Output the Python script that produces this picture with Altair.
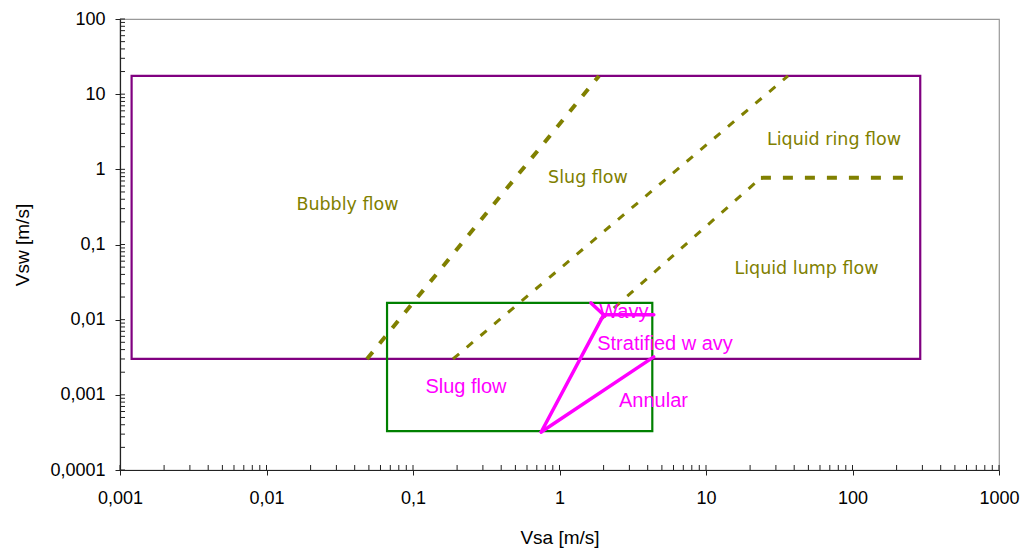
import altair as alt
import pandas as pd

# ---------------- data ----------------
X_TICKS = [0.001, 0.01, 0.1, 1, 10, 100, 1000]
X_LABELS = ["0,001", "0,01", "0,1", "1", "10", "100", "1000"]
Y_TICKS = [0.0001, 0.001, 0.01, 0.1, 1, 10, 100]
Y_LABELS = ["0,0001", "0,001", "0,01", "0,1", "1", "10", "100"]
X_MINOR = [m * 10 ** k for k in range(-3, 3) for m in range(1, 10)] + [1000]
Y_MINOR = [m * 10 ** k for k in range(-4, 2) for m in range(1, 10)] + [100]

# rectangles: x1, x2, y1, y2
RECT_NAMES = ["outer", "inner"]
RECT_X1 = [0.0012, 0.0665]
RECT_X2 = [290, 4.3]
RECT_Y1 = [0.0030, 0.00033]
RECT_Y2 = [17.5, 0.0167]
RECT_COLORS = ["#800080", "#008000"]

# olive boundary lines
L1_X = [0.0485, 1.86]
L1_Y = [0.0030, 17.5]
L2_X = [0.1875, 36.3]
L2_Y = [0.0030, 17.5]
L3_X = [1.9, 23.7]
L3_Y = [0.0099, 0.77]
L4_X = [23.7, 232]
L4_Y = [0.77, 0.77]

# magenta segments
M_X1 = [0.75, 2.0, 2.0, 0.75]
M_Y1 = [0.00032, 0.0116, 0.0116, 0.00032]
M_X2 = [2.0, 1.64, 4.4, 4.4]
M_Y2 = [0.0116, 0.0167, 0.0116, 0.0032]

# labels
OLIVE_TEXT = ["Bubbly flow", "Slug flow", "Liquid ring flow", "Liquid lump flow"]
OLIVE_X = [0.0357, 1.565, 74.8, 48.5]
OLIVE_Y = [0.34, 0.778, 2.42, 0.0465]
MAG_TEXT = ["Wavy", "Stratified w avy", "Slug flow", "Annular"]
MAG_X = [2.75, 5.25, 0.230, 4.38]
MAG_Y = [0.01247, 0.00468, 0.00129, 0.000817]

W, H = 879, 451
OLIVE = "#808000"
MAGENTA = "#FF00FF"


def lookup_expr(vals, labels):
    v = "[" + ",".join(repr(float(x)) for x in vals) + "]"
    l = "[" + ",".join("'" + s + "'" for s in labels) + "]"
    return f"indexof({v}, datum.value) >= 0 ? {l}[indexof({v}, datum.value)] : ''"


xscale = alt.Scale(type="log", domain=[0.001, 1000], nice=False)
yscale = alt.Scale(type="log", domain=[0.0001, 100], nice=False)

axis_common = dict(
    grid=False, domainColor="#222222", domainWidth=1.2, tickColor="#222222",
    tickSize=5, labelFont="Liberation Sans", labelFontSize=18, labelColor="#000000",
    titleFont="Liberation Sans", titleFontSize=19, titleFontWeight="normal",
    titleColor="#000000", labelFlush=False, labelOverlap=False,
)
xaxis = alt.Axis(values=X_TICKS, labelExpr=lookup_expr(X_TICKS, X_LABELS),
                 labelPadding=14, titlePadding=21, title="Vsa [m/s]", **axis_common)
yaxis = alt.Axis(values=Y_TICKS, labelExpr=lookup_expr(Y_TICKS, Y_LABELS),
                 labelPadding=10, titlePadding=17, title="Vsw [m/s]", **axis_common)

rects = pd.DataFrame({"name": RECT_NAMES, "x1": RECT_X1, "x2": RECT_X2,
                      "y1": RECT_Y1, "y2": RECT_Y2, "c": RECT_COLORS})

base_rect = alt.Chart(rects).mark_rect(fillOpacity=0, strokeWidth=2.2).encode(
    x=alt.X("x1:Q", scale=xscale, axis=xaxis),
    x2="x2:Q",
    y=alt.Y("y1:Q", scale=yscale, axis=yaxis),
    y2="y2:Q",
    stroke=alt.Color("c:N", scale=None),
)


def line_layer(xs, ys, width, dash):
    df = pd.DataFrame({"x": xs, "y": ys})
    return alt.Chart(df).mark_line(color=OLIVE, strokeWidth=width, strokeDash=dash,
                                   clip=True).encode(
        x=alt.X("x:Q", scale=xscale), y=alt.Y("y:Q", scale=yscale))


l1 = line_layer(L1_X, L1_Y, 4, [9, 11])
l2 = line_layer(L2_X, L2_Y, 3, [8, 10])
l3 = line_layer(L3_X, L3_Y, 3, [8, 10])
l4 = line_layer(L4_X, L4_Y, 4, [10, 12])

mag = pd.DataFrame({"x1": M_X1, "y1": M_Y1, "x2": M_X2, "y2": M_Y2})
mag_layer = alt.Chart(mag).mark_rule(color=MAGENTA, strokeWidth=3.5, strokeCap="round").encode(
    x=alt.X("x1:Q", scale=xscale), y=alt.Y("y1:Q", scale=yscale), x2="x2:Q", y2="y2:Q")

olive_df = pd.DataFrame({"t": OLIVE_TEXT, "x": OLIVE_X, "y": OLIVE_Y})
olive_text = alt.Chart(olive_df).mark_text(color=OLIVE, font="DejaVu Sans", fontSize=17.5,
                                           align="center", baseline="middle").encode(
    x=alt.X("x:Q", scale=xscale), y=alt.Y("y:Q", scale=yscale), text="t:N")

mag_df = pd.DataFrame({"t": MAG_TEXT, "x": MAG_X, "y": MAG_Y})
mag_text = alt.Chart(mag_df).mark_text(color=MAGENTA, font="Liberation Sans", fontSize=20,
                                       align="center", baseline="middle").encode(
    x=alt.X("x:Q", scale=xscale), y=alt.Y("y:Q", scale=yscale), text="t:N")

# inward minor/major ticks
xt = alt.Chart(pd.DataFrame({"v": X_MINOR})).mark_rule(color="#222222", strokeWidth=1).encode(
    x=alt.X("v:Q", scale=xscale), y=alt.value(H), y2=alt.value(H - 5))
yt = alt.Chart(pd.DataFrame({"v": Y_MINOR})).mark_rule(color="#222222", strokeWidth=1).encode(
    y=alt.Y("v:Q", scale=yscale), x=alt.value(0), x2=alt.value(5))

chart = alt.layer(base_rect, l1, l2, l3, l4, mag_layer, olive_text, mag_text, xt, yt).properties(
    width=W, height=H, padding={"left": 5, "top": 2, "right": 0, "bottom": 3},
    background="white",
).configure_view(stroke="#999999", strokeWidth=1.2)

chart.save("out.html", embed_options={"renderer": "svg", "actions": False})
